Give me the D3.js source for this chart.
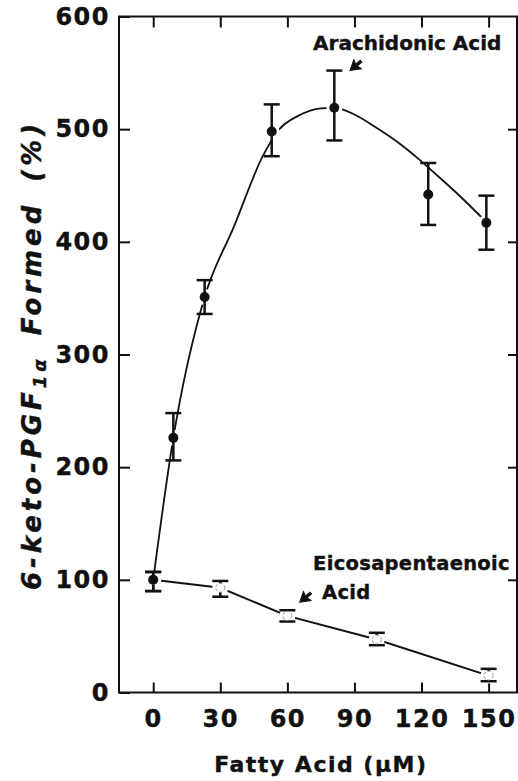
<!DOCTYPE html>
<html>
<head>
<meta charset="utf-8">
<script src="https://cdn.jsdelivr.net/npm/d3@7"></script>
<style>
  body { margin: 0; background: #fff; }
  svg { display: block; }
  text { font-family: "DejaVu Sans", sans-serif; font-weight: bold; fill: #111; stroke: #111; stroke-width: 0.4; }
</style>
</head>
<body>
<div id="chart"></div>
<script>
// arachidonic acid, filled dots
const aaConc = [0, 9, 23, 53, 81, 123, 149];
const aaMean = [100, 226, 351, 498, 519, 442, 417];
const aaLow  = [90, 206, 336, 476, 490, 415, 393];
const aaHigh = [107, 248, 366, 522, 552, 470, 441];

// hand-drawn smooth curve for arachidonic acid
const aaFitConc = [0, 9, 23, 36, 49, 56, 65, 75, 81, 90, 100, 110, 118, 126, 137, 149];
const aaFitVal  = [100, 226, 351, 413, 476, 499, 512, 518.5, 519, 513, 501, 487.5, 474.7, 460.7, 440.9, 417.5];

// eicosapentaenoic acid, open dots
const epaConc = [0, 30, 60, 100, 150];
const epaMean = [100, 93, 68, 47, 15];
const epaLow  = [90, 85, 63, 42, 10];
const epaHigh = [107, 99, 73, 53, 21];

const xTicks = [0, 30, 60, 90, 120, 150];
const yTicks = [0, 100, 200, 300, 400, 500, 600];
const rightTicks = [100, 200, 300, 400, 500];

// annotations in data units
const aaLabel = {text: "Arachidonic Acid", x: 71.5, y: 570};
const aaArrow = {x: 88, y: 552};
const epaLabel1 = {text: "Eicosapentaenoic", x: 71.5, y: 109};
const epaLabel2 = {text: "Acid", x: 75.5, y: 83};
const epaArrow = {x: 65.5, y: 80};

const W = 518, H = 781;
const pLeft = 119, pRight = 517, pTop = 16.5, pBottom = 692.5;

const svg = d3.select("#chart").append("svg")
    .attr("width", W).attr("height", H)
    .attr("viewBox", [0, 0, W, H]);

const x = d3.scaleLinear().domain([-15.3, 162.7]).range([pLeft, pRight]);
const y = d3.scaleLinear().domain([0, 600]).range([pBottom, pTop]);

const toRows = (cx, m, lo, hi) => cx.map((c, i) => ({c, m: m[i], lo: lo[i], hi: hi[i]}));
const aa = toRows(aaConc, aaMean, aaLow, aaHigh);
const epa = toRows(epaConc, epaMean, epaLow, epaHigh);
const aaFit = aaFitConc.map((c, i) => ({c, m: aaFitVal[i]}));

// ticks
const tickStyle = g => {
  g.select(".domain").remove();
  g.selectAll(".tick line").attr("stroke", "#111").attr("stroke-width", 2);
  g.selectAll(".tick text").attr("font-size", 24).attr("letter-spacing", 1.5)
    .attr("fill", "#111").attr("stroke", "#111").attr("stroke-width", 0.5)
    .attr("font-family", "DejaVu Sans");
};

svg.append("g").attr("transform", `translate(0,${pBottom})`)
  .call(d3.axisBottom(x).tickValues(xTicks).tickSizeInner(-10).tickSizeOuter(0).tickPadding(17))
  .call(tickStyle);

svg.append("g").attr("transform", `translate(0,${pTop})`)
  .call(d3.axisTop(x).tickValues(xTicks).tickSizeInner(-11).tickSizeOuter(0).tickFormat(""))
  .call(tickStyle);

svg.append("g").attr("transform", `translate(${pLeft},0)`)
  .call(d3.axisLeft(y).tickValues(yTicks).tickSizeInner(-11).tickSizeOuter(0).tickPadding(9))
  .call(tickStyle);

svg.append("g").attr("transform", `translate(${pRight},0)`)
  .call(d3.axisRight(y).tickValues(rightTicks).tickSizeInner(-9).tickSizeOuter(0).tickFormat(""))
  .call(tickStyle);

// frame
svg.append("rect")
  .attr("x", pLeft).attr("y", pTop)
  .attr("width", pRight - pLeft).attr("height", pBottom - pTop)
  .attr("fill", "none").attr("stroke", "#111").attr("stroke-width", 2);

// axis titles
svg.append("text")
  .attr("x", (x(0) + x(150)) / 2).attr("y", 772)
  .attr("text-anchor", "middle")
  .attr("font-size", 22).attr("letter-spacing", 1.5)
  .text("Fatty Acid (μM)");

// y title runs from y=590 up to about y=160
const yt = svg.append("text")
  .attr("transform", "translate(41,0) rotate(-90)")
  .attr("x", -590).attr("y", 0)
  .attr("font-size", 26).attr("font-style", "italic");
yt.append("tspan").text("6-keto-PGF");
yt.append("tspan").attr("font-size", 18).attr("dy", 5).text("1α");
yt.append("tspan").attr("dy", -5).attr("dx", 20).text("Formed");
yt.append("tspan").attr("dx", 20).text("(%)");
const natural = yt.node().getComputedTextLength();
const nChars = "6-keto-PGF1αFormed(%)".length;
yt.attr("letter-spacing", Math.max(0, (430 - natural) / nChars));

// curves
const aaLine = d3.line().x(d => x(d.c)).y(d => y(d.m)).curve(d3.curveMonotoneX);
const epaLine = d3.line().x(d => x(d.c)).y(d => y(d.m));

svg.append("path").datum(aaFit).attr("d", aaLine)
  .attr("fill", "none").attr("stroke", "#111").attr("stroke-width", 1.8);
svg.append("path").datum(epa).attr("d", epaLine)
  .attr("fill", "none").attr("stroke", "#111").attr("stroke-width", 2);

// gaps in the lines round the dots
svg.append("g").selectAll("circle").data(aa.concat(epa)).join("circle")
  .attr("cx", d => x(d.c)).attr("cy", d => y(d.m)).attr("r", 8).attr("fill", "#fff");

// error bars
const bars = (rows) => {
  const g = svg.append("g").attr("stroke", "#111").attr("stroke-width", 2.5);
  g.selectAll(".v").data(rows).join("line").attr("class", "v")
    .attr("x1", d => x(d.c)).attr("x2", d => x(d.c))
    .attr("y1", d => y(d.lo)).attr("y2", d => y(d.hi));
  g.selectAll(".lo").data(rows).join("line").attr("class", "lo")
    .attr("x1", d => x(d.c) - 8).attr("x2", d => x(d.c) + 8)
    .attr("y1", d => y(d.lo)).attr("y2", d => y(d.lo));
  g.selectAll(".hi").data(rows).join("line").attr("class", "hi")
    .attr("x1", d => x(d.c) - 8).attr("x2", d => x(d.c) + 8)
    .attr("y1", d => y(d.hi)).attr("y2", d => y(d.hi));
};
bars(epa);
bars(aa);

// EPA markers: faint open circles
svg.append("g").selectAll("circle").data(epa).join("circle")
  .attr("cx", d => x(d.c)).attr("cy", d => y(d.m)).attr("r", 4.5)
  .attr("fill", "#fff").attr("stroke", "#999").attr("stroke-width", 1)
  .attr("stroke-dasharray", "3,2");

// AA markers
svg.append("g").selectAll("circle").data(aa).join("circle")
  .attr("cx", d => x(d.c)).attr("cy", d => y(d.m)).attr("r", 5)
  .attr("fill", "#111");

// labels and arrows
const label = (o, size, ls) => svg.append("text")
  .attr("x", x(o.x)).attr("y", y(o.y)).attr("font-size", size)
  .attr("letter-spacing", ls).text(o.text);
label(aaLabel, 20, 0);
label(epaLabel1, 19.5, 0.3);
label(epaLabel2, 19.5, 0.3);

const arrow = (o) => {
  const tx = x(o.x), ty = y(o.y);
  const g = svg.append("g").attr("transform", `translate(${tx},${ty}) rotate(-40)`);
  g.append("path").attr("d", "M0,0 L10,-6 L8,0 L10,6 Z").attr("fill", "#111")
    .attr("stroke", "#111").attr("stroke-width", 1).attr("stroke-linejoin", "round");
  g.append("line").attr("x1", 6).attr("x2", 15).attr("y1", 0).attr("y2", 0)
    .attr("stroke", "#111").attr("stroke-width", 3.5);
};
arrow(aaArrow);
arrow(epaArrow);
</script>
</body>
</html>
